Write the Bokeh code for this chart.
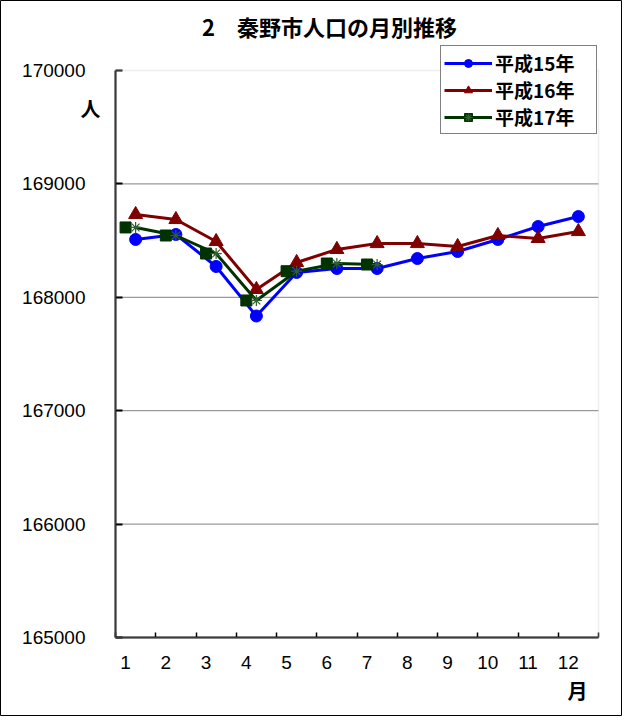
from bokeh.plotting import figure
from bokeh.models import (FixedTicker, Range1d, Legend, LegendItem, Label,
                          ColumnDataSource, BasicTickFormatter, BoxAnnotation)
from bokeh.transform import dodge
from bokeh.embed import file_html
from bokeh.resources import INLINE

months = [1, 2, 3, 4, 5, 6, 7, 8, 9, 10, 11, 12]
h15 = [168510, 168554, 168272, 167835, 168219, 168254, 168254, 168342, 168404, 168510, 168624, 168712]
h16 = [168730, 168686, 168492, 168069, 168307, 168422, 168474, 168474, 168448, 168545, 168519, 168580]
h17 = [168616, 168545, 168386, 167972, 168230, 168298, 168289]
series_names = ["平成15年", "平成16年", "平成17年"]
y_ticks = [165000, 166000, 167000, 168000, 169000, 170000]
title_text = "2　秦野市人口の月別推移"
y_unit = "人"
x_unit = "月"

CJK = "Noto Sans CJK JP"
LAT = "Liberation Sans"

W, H = 622, 716
# plot-area placement in pixels (from top-left of the figure)
PL, PR, PT, PB = 115, 598, 70, 637
x_lo, x_hi = months[0] - 0.5, months[-1] + 0.5
y_lo, y_hi = y_ticks[0], y_ticks[-1]
kx = (PR - PL) / (x_hi - x_lo)
ky = (PB - PT) / (y_hi - y_lo)
xr = Range1d(x_lo - PL / kx, x_hi + (W - PR) / kx)
yr = Range1d(y_lo - (H - PB) / ky, y_hi + PT / ky)

p = figure(width=W, height=H, title=None, x_range=xr, y_range=yr,
           output_backend="svg", toolbar_location=None,
           min_border_left=0, min_border_right=0,
           min_border_top=0, min_border_bottom=0)
p.background_fill_color = "white"
p.border_fill_color = "white"
p.outline_line_color = "black"
p.outline_line_width = 1
p.xgrid.visible = False
p.ygrid.visible = False

# plot area border
p.add_layout(BoxAnnotation(left=x_lo, right=x_hi, bottom=y_lo, top=y_hi,
                           fill_alpha=0, line_color="#c8c8c8", line_width=1.5))
# horizontal grid lines
inner = y_ticks[1:-1]
p.segment(x0=[x_lo] * len(inner), x1=[x_hi] * len(inner), y0=inner, y1=inner,
          line_color="#808080", line_width=1)

# y axis
p.yaxis.fixed_location = x_lo
p.yaxis.bounds = (y_lo, y_hi)
p.yaxis.ticker = FixedTicker(ticks=y_ticks)
p.yaxis.formatter = BasicTickFormatter(use_scientific=False)
p.yaxis.major_tick_in = 7
p.yaxis.major_tick_out = 0
p.yaxis.minor_tick_line_color = None
p.yaxis.major_label_standoff = 30
p.yaxis.major_label_text_font = LAT
p.yaxis.major_label_text_font_size = "19px"
p.yaxis.major_label_text_color = "black"
p.yaxis.axis_line_color = "black"
p.yaxis.axis_line_width = 2
p.yaxis.major_tick_line_color = "black"
p.yaxis.major_tick_line_width = 2

# x axis: labels slightly left of category centres, tick marks at boundaries
label_pos = [m - 0.25 for m in months]
bounds = [m - 0.5 for m in months] + [months[-1] + 0.5]
p.xaxis.fixed_location = y_lo
p.xaxis.bounds = (x_lo, x_hi)
p.xaxis.ticker = FixedTicker(ticks=label_pos, minor_ticks=bounds)
p.xaxis.major_label_overrides = {pos: str(m) for pos, m in zip(label_pos, months)}
p.xaxis.major_tick_line_color = None
p.xaxis.major_tick_in = 0
p.xaxis.major_tick_out = 0
p.xaxis.minor_tick_in = 5
p.xaxis.minor_tick_out = 0
p.xaxis.minor_tick_line_color = "black"
p.xaxis.minor_tick_line_width = 1.5
p.xaxis.major_label_standoff = 18
p.xaxis.major_label_text_font = LAT
p.xaxis.major_label_text_font_size = "19px"
p.xaxis.major_label_text_color = "black"
p.xaxis.axis_line_color = "black"
p.xaxis.axis_line_width = 2

s15 = ColumnDataSource(dict(x=months, y=h15))
s16 = ColumnDataSource(dict(x=months, y=h16))
s17 = ColumnDataSource(dict(x=months[:len(h17)], y=h17))

BLUE = "#0000ff"
RED = "#800000"
GREEN = "#003300"

l15 = p.line("x", "y", source=s15, line_color=BLUE, line_width=3)
m15 = p.scatter("x", "y", source=s15, marker="circle", size=12,
                fill_color=BLUE, line_color=BLUE)
l16 = p.line("x", "y", source=s16, line_color=RED, line_width=3)
m16 = p.scatter("x", "y", source=s16, marker="triangle", size=14,
                fill_color=RED, line_color=RED)
l17 = p.line("x", "y", source=s17, line_color=GREEN, line_width=3)
q17 = p.scatter(dodge("x", -0.25, range=p.x_range), "y", source=s17,
                marker="square", size=11, fill_color=GREEN, line_color=GREEN)
a17 = p.scatter("x", "y", source=s17, marker="asterisk", size=11,
                line_color="#2f5f2f", line_width=1.2)

legend = Legend(items=[
    LegendItem(label=series_names[0], renderers=[l15, m15]),
    LegendItem(label=series_names[1], renderers=[l16, m16]),
    LegendItem(label=series_names[2], renderers=[l17, q17, a17]),
], location=(440, H - 134))
legend.margin = 0
legend.padding = 3
legend.spacing = 0
legend.label_height = 20
legend.label_width = 98
legend.glyph_height = 20
legend.glyph_width = 48
legend.label_standoff = 3
legend.label_text_font = CJK
legend.label_text_font_style = "bold"
legend.label_text_font_size = "19px"
legend.label_text_color = "black"
legend.border_line_color = "black"
legend.border_line_width = 1
legend.background_fill_color = "white"
legend.background_fill_alpha = 1
p.add_layout(legend, "center")

p.add_layout(Label(x=329, y=H - 25, x_units="screen", y_units="screen",
                   text=title_text, text_align="center",
                   text_baseline="middle", text_font=CJK,
                   text_font_style="bold", text_font_size="22px",
                   text_color="black"))
p.add_layout(Label(x=90, y=H - 108, x_units="screen", y_units="screen",
                   text=y_unit, text_align="center",
                   text_baseline="middle", text_font=CJK,
                   text_font_style="bold", text_font_size="20px",
                   text_color="black"))
p.add_layout(Label(x=577, y=H - 690, x_units="screen", y_units="screen",
                   text=x_unit, text_align="center",
                   text_baseline="middle", text_font=CJK,
                   text_font_style="bold", text_font_size="20px",
                   text_color="black"))

open("out.html", "w").write(file_html(p, INLINE))
